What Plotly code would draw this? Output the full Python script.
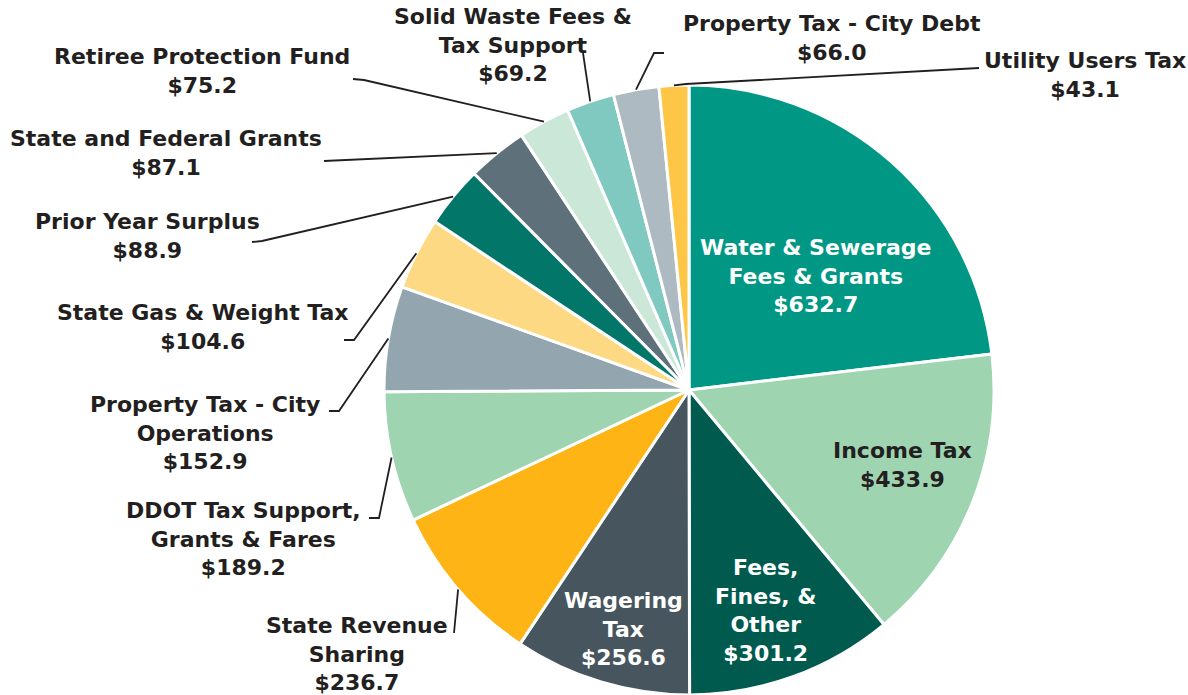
import math
import plotly.graph_objects as go

# ---------------- data ----------------
categories = [
    "Water & Sewerage Fees & Grants", "Income Tax", "Fees, Fines, & Other",
    "Wagering Tax", "State Revenue Sharing", "DDOT Tax Support, Grants & Fares",
    "Property Tax - City Operations", "State Gas & Weight Tax", "Prior Year Surplus",
    "State and Federal Grants", "Retiree Protection Fund",
    "Solid Waste Fees & Tax Support", "Property Tax - City Debt", "Utility Users Tax",
]
values = [632.7, 433.9, 301.2, 256.6, 236.7, 189.2, 152.9, 104.6, 88.9, 87.1,
          75.2, 69.2, 66.0, 43.1]
label_lines = [
    ["Water & Sewerage", "Fees & Grants"], ["Income Tax"], ["Fees,", "Fines, &", "Other"],
    ["Wagering", "Tax"], ["State Revenue", "Sharing"], ["DDOT Tax Support,", "Grants & Fares"],
    ["Property Tax - City", "Operations"], ["State Gas & Weight Tax"], ["Prior Year Surplus"],
    ["State and Federal Grants"], ["Retiree Protection Fund"],
    ["Solid Waste Fees &", "Tax Support"], ["Property Tax - City Debt"], ["Utility Users Tax"],
]
colors = ["#009885", "#9fd4b1", "#005a4e", "#46555e", "#fdb414", "#9fd4b1", "#93a5ae",
          "#fed983", "#03766a", "#5e717b", "#cbe7d7", "#80c9c1", "#adbac2", "#fdc647"]

# ---------------- layout (pixels) ----------------
W, H = 1188, 695
CX, CY, R = 689, 390, 305
DARK = "#231f20"
FONT = "DejaVu Sans"
FSIZE = 22
# label block centres
label_pos = [(816, 276), (902, 465), (765, 610), (623, 629), (357, 654), (243, 539),
             (205, 433), (203, 327), (147, 236), (166, 153), (202, 71), (513, 45),
             (832, 38), (1085, 75)]
text_colors = ["white", DARK, "white", "white"] + [DARK] * 10
# leader polyline starting points near the label (ends at slice edge)
leader_start = [None, None, None, None,
                [(454, 633)],
                [(369, 518), (379, 518)],
                [(329, 411), (339, 411)],
                [(344, 340), (354, 340)],
                [(252, 242), (262, 241)],
                [(324, 161)],
                [(353, 79), (364, 80)],
                [(583, 53)],
                [(664, 53), (654, 53)],
                [(979, 68), (686, 84)]]


def px(x):
    return x / W


def py(y):
    return 1 - y / H


total = sum(values)
fig = go.Figure()
fig.add_trace(go.Pie(
    values=values, labels=categories, sort=False, direction="clockwise", rotation=0,
    marker=dict(colors=colors, line=dict(color="white", width=3)),
    textinfo="none", hoverinfo="label+value", showlegend=False,
    domain=dict(x=[px(CX - R), px(CX + R)], y=[py(CY + R), py(CY - R)]),
))

annotations = []
shapes = []
cum = 0.0
for i, v in enumerate(values):
    mid = (cum + v / 2) / total * 2 * math.pi
    cum += v
    ex = CX + R * math.sin(mid)
    ey = CY - R * math.cos(mid)
    lines = label_lines[i] + ["$%.1f" % v]
    text = "<br>".join("<b>%s</b>" % t for t in lines)
    lx, ly = label_pos[i]
    annotations.append(dict(
        x=px(lx), y=py(ly), xref="paper", yref="paper", text=text, showarrow=False,
        xanchor="center", yanchor="middle", align="center",
        font=dict(family=FONT, size=FSIZE, color=text_colors[i]),
    ))
    if leader_start[i]:
        pts = leader_start[i] + [(ex, ey)]
        path = "M " + " L ".join("%.5f,%.5f" % (px(a), py(b)) for a, b in pts)
        shapes.append(dict(type="path", xref="paper", yref="paper", path=path,
                           line=dict(color=DARK, width=1.8)))

fig.update_layout(
    width=W, height=H, margin=dict(l=0, r=0, t=0, b=0),
    paper_bgcolor="white", plot_bgcolor="white",
    annotations=annotations, shapes=shapes,
)
fig.write_html("out.html", config={"displayModeBar": False},
               post_script="document.body.style.margin='0';document.body.style.overflow='hidden';")
